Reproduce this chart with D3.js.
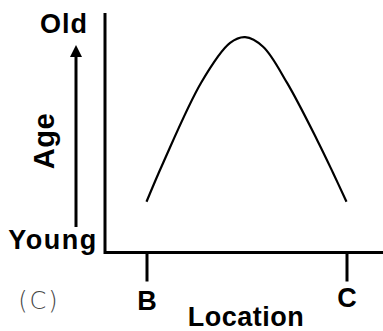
<!DOCTYPE html>
<html>
<head>
<meta charset="utf-8">
<script src="https://cdn.jsdelivr.net/npm/d3@7"></script>
<style>
  body { margin: 0; background: #fff; }
  svg { display: block; }
  text { font-family: "Liberation Sans", Arial, sans-serif; font-weight: bold; fill: #000; }
</style>
</head>
<body>
<div id="chart"></div>
<script>
// location along the section, B = 0 .. C = 10
var location_ = [0, 0.83, 2.76, 4.18, 4.93, 5.83, 7.03, 8.53, 9.33, 10];
// relative age, young = 0 .. old = 10
var age = [2.12, 3.74, 7.13, 8.75, 8.99, 8.59, 7.08, 4.70, 3.32, 2.12];
var tickNames = ["B", "C"];
var tickPos = [0, 10];

var width = 383,
    height = 331;

var svg = d3.select("#chart")
  .append("svg")
    .attr("width", width)
    .attr("height", height);

var x = d3.scaleLinear().domain([0, 10]).range([146.5, 346.5]);
var y = d3.scaleLinear().domain([0, 10]).range([252.5, 13]);

var axisX = 105; // where the vertical axis sits

// axis frame
svg.append("path")
  .attr("d", "M" + axisX + "," + y(10) + "V" + y(0) + "H" + width)
  .attr("fill", "none")
  .attr("stroke", "#000")
  .attr("stroke-width", 3);

// ticks B and C
var xAxis = d3.axisBottom(x)
  .tickValues(tickPos)
  .tickFormat((d, i) => tickNames[i])
  .tickSize(29)
  .tickPadding(9);

var gx = svg.append("g")
  .attr("transform", "translate(0," + y(0) + ")")
  .call(xAxis);
gx.select(".domain").remove();
gx.selectAll(".tick line").attr("stroke", "#000").attr("stroke-width", 3);
gx.selectAll(".tick text")
  .attr("font-size", 27)
  .attr("dy", (d, i) => i == 1 ? "0.6em" : "0.71em");

// the age curve
var line = d3.line()
  .x((d, i) => x(location_[i]))
  .y(d => y(d))
  .curve(d3.curveCatmullRom.alpha(0.5));

svg.append("path")
  .datum(age)
  .attr("d", line)
  .attr("fill", "none")
  .attr("stroke", "#000")
  .attr("stroke-width", 2.2);

// y side labels
svg.append("text")
  .attr("x", 64).attr("y", 33)
  .attr("text-anchor", "middle")
  .attr("font-size", 27)
  .attr("letter-spacing", 1)
  .text("Old");

svg.append("text")
  .attr("x", 53).attr("y", 249)
  .attr("text-anchor", "middle")
  .attr("font-size", 27)
  .attr("letter-spacing", 1.5)
  .text("Young");

svg.append("text")
  .attr("transform", "translate(54,141) rotate(-90)")
  .attr("text-anchor", "middle")
  .attr("font-size", 29)
  .attr("letter-spacing", 0.5)
  .text("Age");

// arrow
svg.append("defs").append("marker")
  .attr("id", "head")
  .attr("viewBox", "0 0 10 10")
  .attr("refX", 5).attr("refY", 5)
  .attr("markerWidth", 4).attr("markerHeight", 4)
  .attr("orient", "auto")
  .append("path")
    .attr("d", "M0,0L10,5L0,10z")
    .attr("fill", "#000");

svg.append("line")
  .attr("x1", 76).attr("x2", 76)
  .attr("y1", 227).attr("y2", 51)
  .attr("stroke", "#000")
  .attr("stroke-width", 3)
  .attr("marker-end", "url(#head)");

// x title
svg.append("text")
  .attr("x", 246).attr("y", 326)
  .attr("text-anchor", "middle")
  .attr("font-size", 27)
  .attr("letter-spacing", 0.5)
  .text("Location");

// panel tag (thin, grey)
svg.append("text")
  .attr("x", 39).attr("y", 309)
  .attr("text-anchor", "middle")
  .attr("font-size", 24)
  .attr("letter-spacing", 2)
  .style("font-family", "'DejaVu Sans', sans-serif")
  .style("font-weight", "200")
  .style("fill", "#444")
  .text("(C)");
</script>
</body>
</html>
